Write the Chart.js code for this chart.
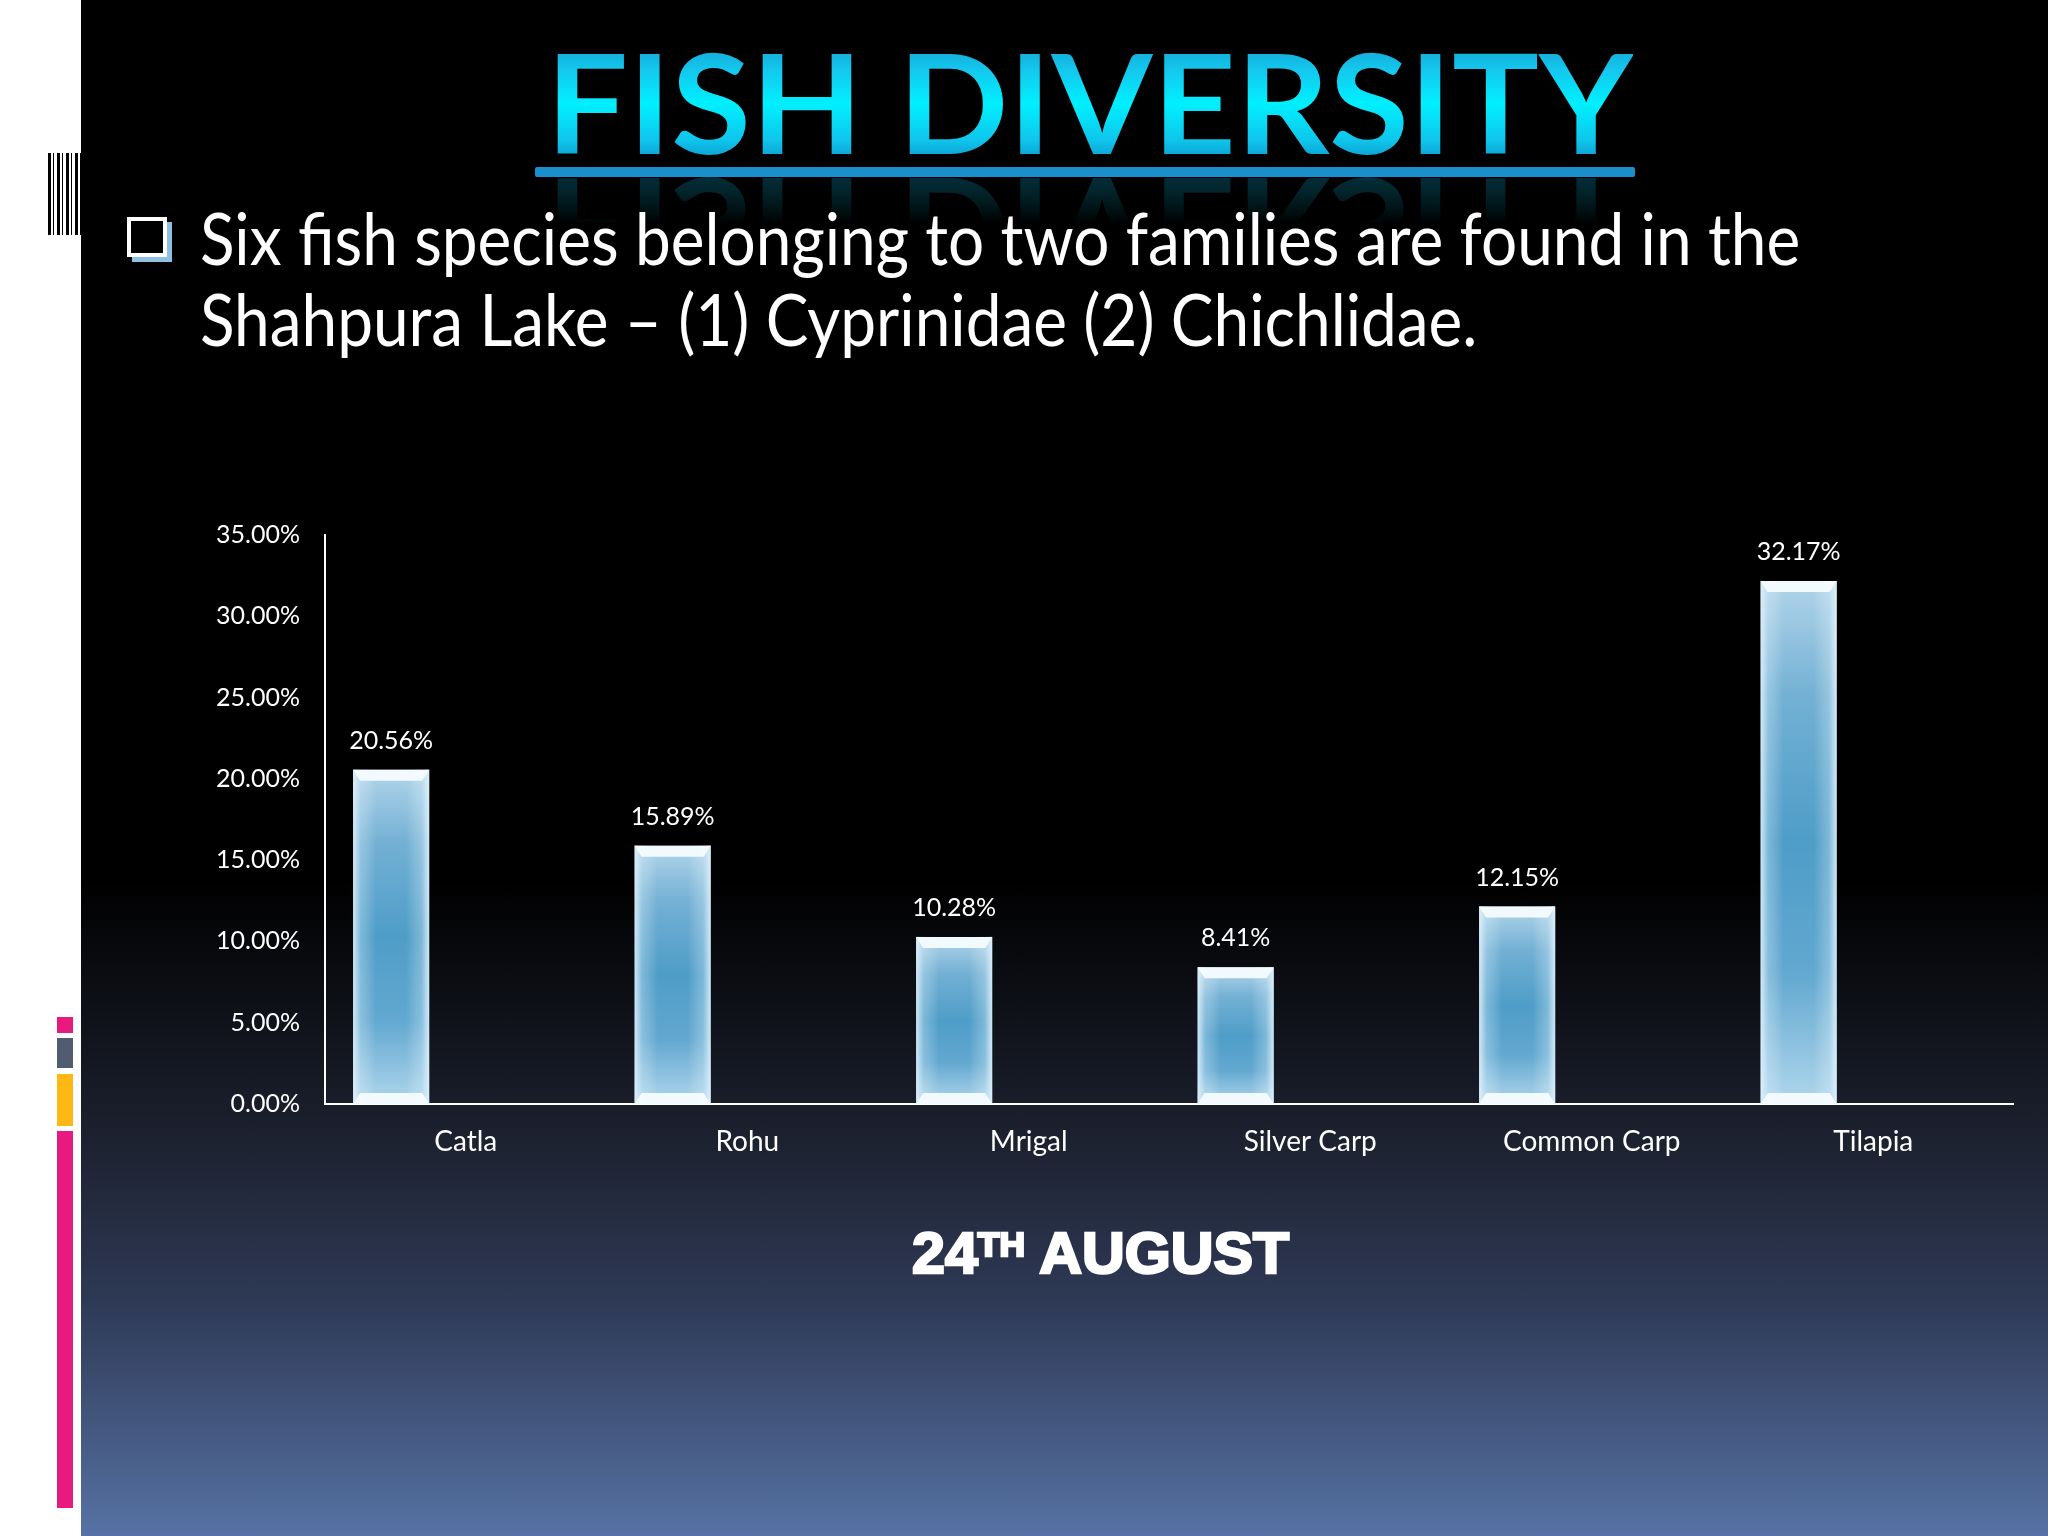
<!DOCTYPE html>
<html>
<head>
<meta charset="utf-8">
<script src="https://cdn.jsdelivr.net/npm/chart.js@4.4.1/dist/chart.umd.min.js"></script>
<style>
  html, body { margin: 0; padding: 0; }
  body {
    width: 2048px; height: 1536px; overflow: hidden; position: relative;
    background: linear-gradient(to bottom, #000 0px, #000 880px, #1e2332 1150px, #2e3955 1300px, #5672a4 1536px);
    font-family: Lato, "Open Sans", sans-serif; color: #fff;
  }
  .strip { position: absolute; left: 0; top: 0; width: 81px; height: 1536px; background: #fff; }
  .barcode {
    position: absolute; left: 48px; top: 153px; width: 33px; height: 82px;
    background: repeating-linear-gradient(to right, #000 0 3px, #fff 3px 5px, #000 5px 6px, #fff 6px 9px);
  }
  .tag { position: absolute; left: 57px; width: 16px; }
  .title {
    position: absolute; left: 546px; top: 32px; margin: 0;
    font: 700 138px/138px Lato, sans-serif; white-space: nowrap;
    transform-origin: left top;
    background: linear-gradient(to bottom, #1396c8 0%, #14c8ee 28%, #00f0ff 52%, #0fc6ec 78%, #0a88c2 100%);
    -webkit-background-clip: text; background-clip: text; color: transparent;
    -webkit-box-reflect: below -8px linear-gradient(transparent 55%, rgba(255,255,255,0.35));
  }
  .rule { position: absolute; left: 535px; top: 167px; width: 1100px; height: 10px; background: #1a8fcb; border-radius: 2px; }
  .bullet {
    position: absolute; left: 127px; top: 217px; width: 32px; height: 32px;
    border: 4px solid #fff; box-shadow: 5px 5px 0 #8fc0e4;
  }
  .text {
    position: absolute; left: 200px; top: 197px; margin: 0;
    font: 400 72px/81px Lato, sans-serif; white-space: nowrap; transform-origin: left top;
  }
  .subtitle {
    position: absolute; left: 912px; top: 1225px; margin: 0;
    font: 700 57px/57px "Liberation Sans", Arial, sans-serif; white-space: nowrap;
    transform-origin: left top; -webkit-text-stroke: 2.5px #fff;
  }
  .subtitle sup { font-size: 34px; vertical-align: 17px; line-height: 0; }
  #chart { position: absolute; left: 150px; top: 480px; }
</style>
</head>
<body>
<div class="strip"></div>
<div class="barcode"></div>
<div class="tag" style="top:1017px;height:16px;background:#e8197f"></div>
<div class="tag" style="top:1038px;height:30px;background:#525c70"></div>
<div class="tag" style="top:1074px;height:52px;background:#fdb813"></div>
<div class="tag" style="top:1131px;height:377px;background:#e8197f"></div>

<div class="title" id="title">FISH DIVERSITY</div>
<div class="rule"></div>
<div class="bullet"></div>
<div class="text" id="bodytext">Six fish species belonging to two families are found in the<br>Shahpura Lake – (1) Cyprinidae (2) Chichlidae.</div>

<canvas id="chart" width="1864" height="704"></canvas>

<div class="subtitle" id="subtitle">24<sup>TH</sup> AUGUST</div>

<script>
const species = ['Catla', 'Rohu', 'Mrigal', 'Silver Carp', 'Common Carp', 'Tilapia'];
const share = [20.56, 15.89, 10.28, 8.41, 12.15, 32.17];
const yTicks = [0, 5, 10, 15, 20, 25, 30, 35];

function fitWidth(id, target) {
  const el = document.getElementById(id);
  const w = el.scrollWidth;
  el.style.transform = 'scaleX(' + (target / w) + ')';
}

const barLook = {
  id: 'barLook',
  afterDatasetsDraw(chart) {
    const c = chart.ctx;
    const meta = chart.getDatasetMeta(0);
    meta.data.forEach((bar, i) => {
      const { x, y, base, width } = bar.getProps(['x', 'y', 'base', 'width'], true);
      const l = x - width / 2, r = x + width / 2;
      c.save();
      // glassy side sheen
      const g = c.createLinearGradient(l, 0, r, 0);
      g.addColorStop(0, 'rgba(230,245,253,0.85)');
      g.addColorStop(0.1, 'rgba(230,245,253,0.3)');
      g.addColorStop(0.3, 'rgba(255,255,255,0)');
      g.addColorStop(0.7, 'rgba(255,255,255,0)');
      g.addColorStop(0.9, 'rgba(230,245,253,0.3)');
      g.addColorStop(1, 'rgba(230,245,253,0.85)');
      c.fillStyle = g;
      c.fillRect(l, y, width, base - y);
      // bevel caps
      c.fillStyle = 'rgba(245,252,255,0.95)';
      c.beginPath();
      c.moveTo(l, y); c.lineTo(r, y); c.lineTo(r - 7, y + 11); c.lineTo(l + 7, y + 11); c.closePath();
      c.fill();
      c.beginPath();
      c.moveTo(l, base); c.lineTo(r, base); c.lineTo(r - 7, base - 11); c.lineTo(l + 7, base - 11); c.closePath();
      c.fill();
      // value label
      c.fillStyle = '#ffffff';
      c.font = '25px Lato, sans-serif';
      c.textAlign = 'center';
      c.textBaseline = 'middle';
      c.fillText(share[i].toFixed(2) + '%', x, y - 29);
      c.restore();
    });
  }
};

document.fonts.ready.then(() => {
  fitWidth('title', 1087);
  fitWidth('bodytext', 1600);
  fitWidth('subtitle', 377);

  new Chart(document.getElementById('chart'), {
    type: 'bar',
    data: {
      labels: species,
      datasets: [
        {
          data: share,
          backgroundColor: (ctx) => {
            const chart = ctx.chart;
            const ys = chart.scales.y;
            if (!ys || ctx.raw == null) return '#4f9ec8';
            const top = ys.getPixelForValue(ctx.raw);
            const bottom = ys.getPixelForValue(0);
            if (!Number.isFinite(top) || !Number.isFinite(bottom) || top === bottom) return '#4f9ec8';
            const g = chart.ctx.createLinearGradient(0, top, 0, bottom);
            g.addColorStop(0, '#b2d5ea');
            g.addColorStop(0.22, '#73b0d4');
            g.addColorStop(0.5, '#4e9dc8');
            g.addColorStop(0.75, '#62a8d0');
            g.addColorStop(1, '#b0d6ec');
            return g;
          },
          borderWidth: 0,
        },
        { data: [] },
      ],
    },
    options: {
      responsive: false,
      devicePixelRatio: 1,
      animation: false,
      categoryPercentage: 1.06,
      barPercentage: 0.51,
      layout: { padding: { top: 55, right: 0, left: 0, bottom: 0 } },
      plugins: { legend: { display: false }, tooltip: { enabled: false } },
      scales: {
        x: {
          grid: { display: false, drawTicks: false },
          border: { color: '#ffffff', width: 2 },
          ticks: { color: '#ffffff', font: { family: 'Lato', size: 28 }, padding: 21 },
          afterFit: (s) => { s.height = 80; },
        },
        y: {
          min: 0,
          max: 35,
          afterBuildTicks: (s) => { s.ticks = yTicks.map(v => ({ value: v })); },
          grid: { display: false, drawTicks: false },
          border: { color: '#ffffff', width: 2 },
          ticks: {
            color: '#ffffff',
            font: { family: 'Lato', size: 25 },
            padding: 25,
            callback: (v) => v.toFixed(2) + '%',
          },
          afterFit: (s) => { s.width = 175; },
        },
      },
    },
    plugins: [barLook],
  });
});
</script>
</body>
</html>
